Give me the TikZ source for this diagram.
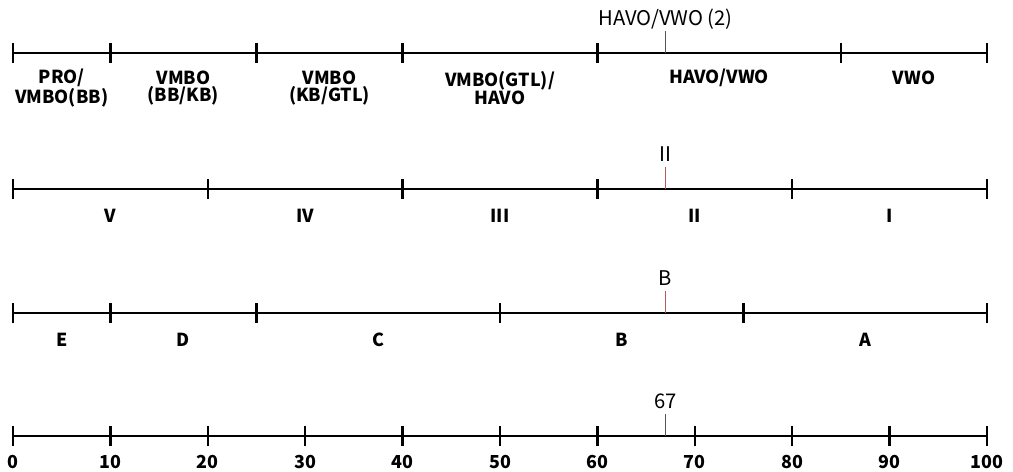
\documentclass[tikz,border=0pt]{standalone}
\usepackage{fontspec}
\setmainfont{Noto Sans CJK SC}
\usetikzlibrary{positioning}
\definecolor{markred}{HTML}{B35A5C}
\definecolor{markgray}{HTML}{555555}

\tikzset{
  scaleline/.style={line width=1.4pt},
  tickmark/.style={line width=1.4pt},
  marker/.style={line width=1pt},
  band/.style={font=\fontsize{10.2}{10}\selectfont\bfseries, align=center, inner sep=0pt},
  marklabel/.style={font=\fontsize{11.5}{13}\selectfont, inner sep=0pt, anchor=base}
}

\begin{document}
\begin{tikzpicture}[x=1.948mm, y=-0.2mm]
        \useasboundingbox (-1.3347,0) rectangle (102.669,472);

        % schooladvies
        \foreach \v in {0,10,25,40,60,85,100}
          \coordinate (s1-\v) at (\v,53);
        \draw[scaleline] (s1-0) -- (s1-100);
        \foreach \v in {0,10,25,40,60,85,100}
          \draw[tickmark] ([yshift=2mm]s1-\v) -- ([yshift=-2mm]s1-\v);
        \node (pro)  [band] at (5,88)    {PRO/\\VMBO(BB)};
        \node (bbkb) [band] at (17.5,88) {VMBO\\(BB/KB)};
        \node (kbgt) [band] at (32.5,88) {VMBO\\(KB/GTL)};
        \node (gtlh) [band] at (50,88)   {VMBO(GTL)/\\HAVO};
        \node (havw) [band] at (72.5,78) {HAVO/VWO};
        \node (vwo)  [band] at (92.5,78) {VWO};
        \coordinate (m1) at (67,53);
        \node (m1lab) [marklabel] at (67,25) {HAVO/VWO (2)};
        \draw[marker, markgray] (m1) -- ([yshift=4.4mm]m1);

        % niveau
        \foreach \v in {0,20,40,60,80,100}
          \coordinate (s2-\v) at (\v,189);
        \draw[scaleline] (s2-0) -- (s2-100);
        \foreach \v in {0,20,40,60,80,100}
          \draw[tickmark] ([yshift=2mm]s2-\v) -- ([yshift=-2mm]s2-\v);
        \foreach \v/\t in {10/V,30/IV,50/III,70/II,90/I}
          \node (n-\t) [band, anchor=base] at (\v,222) {\t};
        \coordinate (m2) at (67,189);
        \node (m2lab) [marklabel] at (67,161) {II};
        \draw[marker, markred] (m2) -- ([yshift=4.4mm]m2);

        % klasse
        \foreach \v in {0,10,25,50,75,100}
          \coordinate (s3-\v) at (\v,313);
        \draw[scaleline] (s3-0) -- (s3-100);
        \foreach \v in {0,10,25,50,75,100}
          \draw[tickmark] ([yshift=2mm]s3-\v) -- ([yshift=-2mm]s3-\v);
        \foreach \v/\t in {5/E,17.5/D,37.5/C,62.5/B,87.5/A}
          \node (k-\t) [band, anchor=base] at (\v,346) {\t};
        \coordinate (m3) at (67,313);
        \node (m3lab) [marklabel] at (67,285) {B};
        \draw[marker, markred] (m3) -- ([yshift=4.4mm]m3);

        % score
        \foreach \v in {0,10,...,100}
          \coordinate (s4-\v) at (\v,436);
        \draw[scaleline] (s4-0) -- (s4-100);
        \foreach \v in {0,10,...,100} {
          \draw[tickmark] ([yshift=2mm]s4-\v) -- ([yshift=-2mm]s4-\v);
          \node (num-\v) [band, anchor=base] at (\v,468) {\v};
        }
        \coordinate (m4) at (67,436);
        \node (m4lab) [marklabel] at (67,408) {67};
        \draw[marker, markgray] (m4) -- ([yshift=4.4mm]m4);
\end{tikzpicture}
\end{document}
